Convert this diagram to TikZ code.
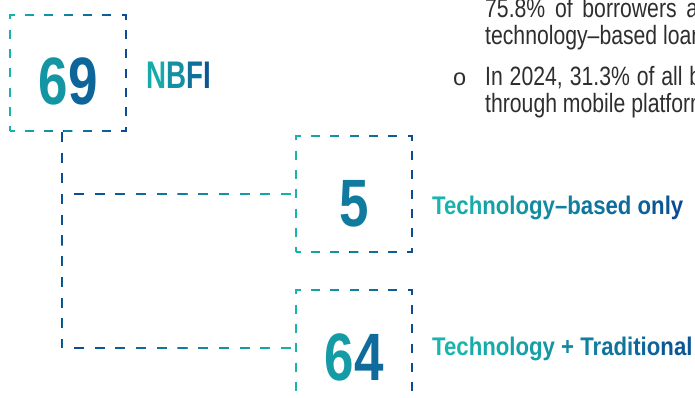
\documentclass[tikz,border=0pt]{standalone}
\usepackage{fontspec}
\setmainfont{Liberation Sans}
\newfontfamily\numfont[FakeStretch=0.79]{Liberation Sans}
\newfontfamily\labfont[FakeStretch=0.87]{Liberation Sans}
\newfontfamily\nbfifont[FakeStretch=0.72]{Liberation Sans}
\newfontfamily\bodyfont[FakeStretch=0.8]{Liberation Sans}
\usetikzlibrary{positioning,fadings}
\definecolor{cteal}{HTML}{17B5AC}
\definecolor{cblue}{HTML}{0B4B93}
\definecolor{cbody}{HTML}{2E2E2E}
% colour between teal (0) and blue (100)
\newcommand{\gc}[2]{\textcolor{cblue!#1!cteal}{#2}}
\tikzfading[name=fadeleft, left color=transparent!0, right color=transparent!100]
\tikzfading[name=fadetop, top color=transparent!0, bottom color=transparent!100]
\tikzset{
  numbox/.style={draw=cblue, line width=2pt, dash pattern=on 9pt off 10.33pt,
                 dash phase=4.5pt,
                 minimum width=116pt, minimum height=116pt, inner sep=0pt,
                 text height=90pt, text depth=26pt,
                 font=\numfont\bfseries\fontsize{67pt}{67pt}\selectfont,
                 postaction={draw=cteal, path fading=fadeleft}},
  tag/.style={inner sep=0pt, anchor=base west,
              font=\labfont\bfseries\fontsize{25.5pt}{25.5pt}\selectfont},
  body/.style={inner sep=0pt, anchor=base west, text=cbody,
               font=\bodyfont\fontsize{26.5pt}{26.5pt}\selectfont},
  conn/.style={draw=cteal, line width=2pt, dash pattern=on 10pt off 10.7pt,
               postaction={draw=cblue, path fading=fadeleft}},
  connv/.style={conn, postaction={draw=cblue, path fading=fadetop}},
}
\begin{document}
\begin{tikzpicture}[x=1pt, y=-1pt]
  \useasboundingbox (0,0) rectangle (695,398);
  \clip (0,0) rectangle (695,398);
  % boxes
  \node[numbox] (n69) at (68,73) {\gc{30}{6}\gc{75}{9}};
  \node[numbox, below right=3pt and 168pt of n69] (n5) {\gc{55}{5}};
  \node[numbox, below=36pt of n5] (n64) {\gc{25}{6}\gc{70}{4}};
  \node[inner sep=0pt, right=19pt of n69, yshift=-2.5pt,
        font=\nbfifont\bfseries\fontsize{38.5pt}{38.5pt}\selectfont] (nbfi)
    {\gc{10}{N}\gc{35}{B}\gc{65}{F}\gc{90}{I}};
  \node[tag] (tonly) at (432,214)
    {\gc{0}{Te}\gc{10}{ch}\gc{20}{no}\gc{30}{lo}\gc{40}{gy}\gc{50}{–b}%
     \gc{60}{as}\gc{70}{ed} \gc{80}{o}\gc{90}{nl}\gc{100}{y}};
  \node[tag] (tboth) at (432,355)
    {\gc{0}{Tec}\gc{10}{hno}\gc{20}{log}\gc{30}{y} \gc{40}{+} \gc{50}{Tr}%
     \gc{60}{adi}\gc{75}{tio}\gc{90}{nal}};
  % connectors
  \coordinate (trunk) at ([xshift=-6pt]n69.south);
  \coordinate (elbow) at (trunk |- n64.west);
  \draw[connv] (trunk) -- (elbow) +(2,0);
  \draw[conn] ([xshift=12pt]trunk |- n5.west) -- (n5.west) +(0,2);
  \draw[conn] ([xshift=12pt]elbow) -- (n64.west) +(0,2);
  % text of the page
  \node[body] (l1) at (485,17.5) {\makebox[213pt][s]{75.8\% of borrowers a}};
  \node[body] (l2) at (485,44.5) {technology–based loans};
  \node[body, font=\fontsize{23.5pt}{23.5pt}\selectfont] (dot) at (453,86) {o};
  \node[body] (l3) at (485,86) {\makebox[216pt][s]{In 2024, 31.3\% of all b}};
  \node[body] (l4) at (485,113) {through mobile platform};
\end{tikzpicture}
\end{document}
